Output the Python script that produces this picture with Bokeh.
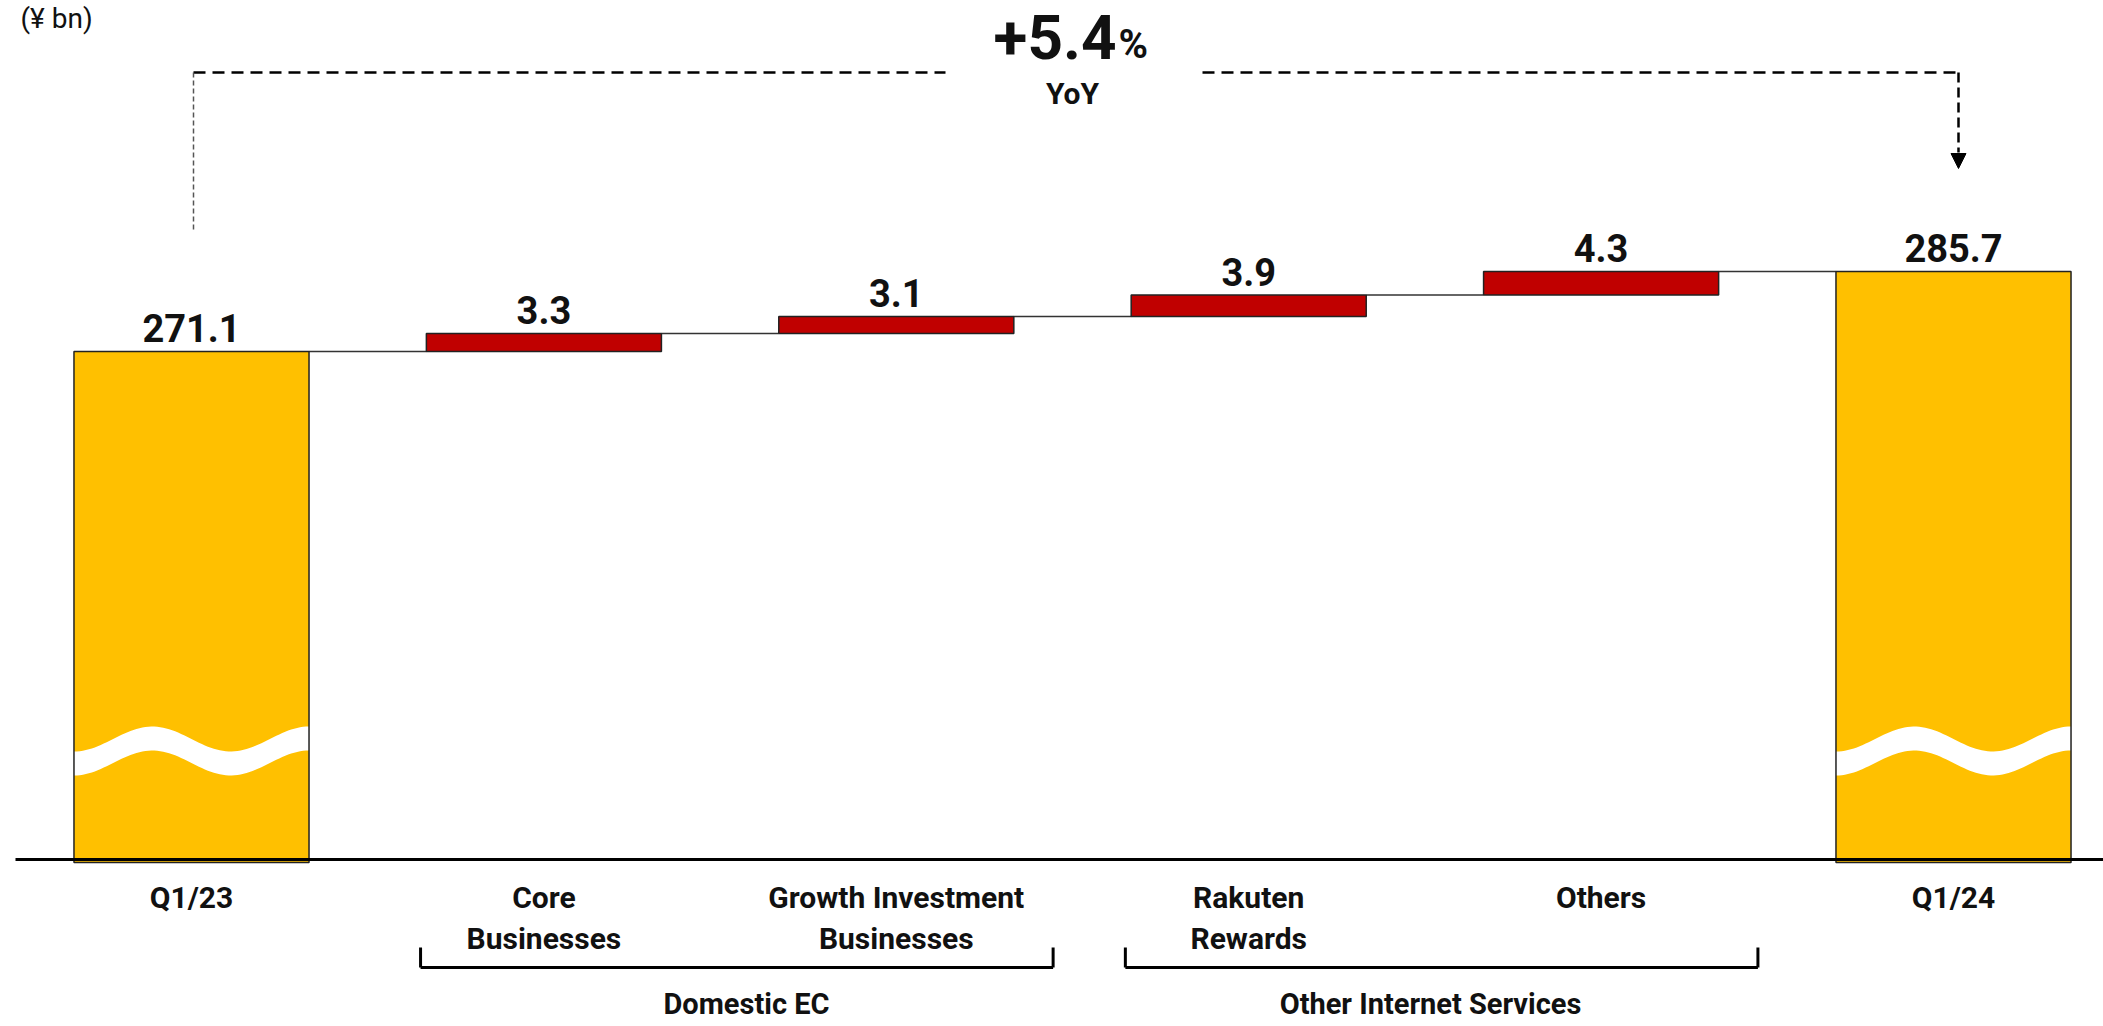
import numpy as np
from bokeh.plotting import figure
from bokeh.models import Range1d
from bokeh.core.properties import value
from bokeh.embed import file_html
from bokeh.resources import INLINE

# ---------------- data ----------------
categories = ["Q1/23", "Core\nBusinesses", "Growth Investment\nBusinesses",
              "Rakuten\nRewards", "Others", "Q1/24"]
start_total = 271.1
deltas = [3.3, 3.1, 3.9, 4.3]
end_total = 285.7
value_labels = ["271.1", "3.3", "3.1", "3.9", "4.3", "285.7"]
groups = ["Domestic EC", "Other Internet Services"]
group_members = [(1, 2), (3, 4)]
yoy_number = "+5.4"
yoy_unit = "%"
yoy_caption = "YoY"
unit_label = "(¥ bn)"

# ---------------- layout ----------------
W, H = 2103, 1026
X0_PX = 191.0        # pixel centre of first category
STEP_PX = 352.4      # pixel distance between categories
PX_PER_UNIT = 5.48
Y_TOP = 335.15       # value at top of canvas
AXIS_PX = 859
BAR_W = 0.667
FONT = "Roboto"
YELLOW = "#FFC000"
RED = "#C00000"
INK = "#111111"
BASE_FIX = 0.35      # renderer places baseline ~0.35em lower than requested
GROUP_LABEL_PX = [746, 1430]


def dx(px):
    return (px - X0_PX) / STEP_PX


def dy(py):
    return Y_TOP - py / PX_PER_UNIT


def tb(py, size):
    """data y for a text baseline at pixel row py with font size `size`."""
    return dy(py - BASE_FIX * size)


axis_val = dy(AXIS_PX)
n = len(categories)
xs = np.arange(n, dtype=float)

running = start_total + np.cumsum([0.0] + deltas)          # totals after each step
tops = [start_total] + list(running[1:]) + [end_total]
bottoms = [dy(AXIS_PX + 3)] + list(running[:-1]) + [dy(AXIS_PX + 3)]
is_total = [True] + [False] * len(deltas) + [True]

p = figure(width=W, height=H, output_backend="svg", toolbar_location=None,
           x_range=Range1d(dx(0), dx(W)), y_range=Range1d(dy(H), dy(0)),
           x_axis_location=None, y_axis_location=None, min_border=0,
           outline_line_color=None, background_fill_color="white")
p.xgrid.grid_line_color = None
p.ygrid.grid_line_color = None

# connectors between bars
cx0 = [xs[i] + BAR_W / 2 for i in range(n - 1)]
cx1 = [xs[i + 1] - BAR_W / 2 for i in range(n - 1)]
clev = [tops[i] for i in range(n - 1)]
p.segment(x0=cx0, y0=clev, x1=cx1, y1=clev, line_color="#333333", line_width=1.5)

# bars
tot_idx = [i for i in range(n) if is_total[i]]
dlt_idx = [i for i in range(n) if not is_total[i]]
p.quad(left=[xs[i] - BAR_W / 2 for i in tot_idx], right=[xs[i] + BAR_W / 2 for i in tot_idx],
       bottom=[bottoms[i] for i in tot_idx], top=[tops[i] for i in tot_idx],
       fill_color=YELLOW, line_color=None)
# axis-break waves on total bars
wxs, wys = [], []
u = np.linspace(0, 1, 80)
for i in tot_idx:
    xl = xs[i] - BAR_W / 2
    edge = 738.5 - 12.5 * np.cos(3 * np.pi * (u - 1 / 3))
    xx = list(xl + u * BAR_W) + list((xl + u * BAR_W)[::-1])
    yy = list(dy(edge)) + list(dy(edge + 24)[::-1])
    wxs.append(xx)
    wys.append(yy)
p.patches(xs=wxs, ys=wys, fill_color="white", line_color=None)
p.quad(left=[xs[i] - BAR_W / 2 for i in tot_idx], right=[xs[i] + BAR_W / 2 for i in tot_idx],
       bottom=[bottoms[i] for i in tot_idx], top=[tops[i] for i in tot_idx],
       fill_color=None, line_color="#222222", line_width=1.5)
p.quad(left=[xs[i] - BAR_W / 2 for i in dlt_idx], right=[xs[i] + BAR_W / 2 for i in dlt_idx],
       bottom=[bottoms[i] for i in dlt_idx], top=[tops[i] for i in dlt_idx],
       fill_color=RED, line_color="#222222", line_width=1.5)

# baseline
p.segment(x0=[dx(15)], y0=[axis_val], x1=[dx(W)], y1=[axis_val], line_color="black", line_width=3)

# value labels
VAL_FS = 38
p.text(x=xs, y=[t + (10 + BASE_FIX * VAL_FS) / PX_PER_UNIT for t in tops], text=value_labels,
       text_align="center", text_baseline="alphabetic", text_font=value(FONT),
       text_font_style="bold", text_font_size=f"{VAL_FS}px", text_color=INK)

# category labels (two lines)
CAT_FS = 30
line1 = [c.split("\n")[0] for c in categories]
line2 = [c.split("\n")[1] if "\n" in c else "" for c in categories]
p.text(x=xs, y=[tb(907, CAT_FS)] * n, text=line1, text_align="center", text_baseline="alphabetic",
       text_font=value(FONT), text_font_style="bold", text_font_size=f"{CAT_FS}px", text_color=INK)
p.text(x=xs, y=[tb(948, CAT_FS)] * n, text=line2, text_align="center", text_baseline="alphabetic",
       text_font=value(FONT), text_font_style="bold", text_font_size=f"{CAT_FS}px", text_color=INK)

# group brackets
bl = [xs[a] - 0.35 for a, b in group_members]
br = [xs[b] + 0.445 for a, b in group_members]
yb0, yb1 = dy(947), dy(967)
p.segment(x0=bl + br + bl, y0=[yb0] * 2 + [yb0] * 2 + [yb1] * 2,
          x1=bl + br + br, y1=[yb1] * 2 + [yb1] * 2 + [yb1] * 2,
          line_color="black", line_width=3)
GRP_FS = 29
p.text(x=[dx(v) for v in GROUP_LABEL_PX], y=[tb(1014, GRP_FS)] * len(groups), text=groups,
       text_align="center", text_baseline="alphabetic", text_font=value(FONT),
       text_font_style="bold", text_font_size=f"{GRP_FS}px", text_color=INK)

# YoY dashed bracket
p.segment(x0=[dx(193), dx(1202)], y0=[dy(72)] * 2, x1=[dx(945), dx(1958)], y1=[dy(72)] * 2,
          line_color="black", line_width=2.5, line_dash="12 7")
p.segment(x0=[dx(193)], y0=[dy(72)], x1=[dx(193)], y1=[dy(232)],
          line_color="#555555", line_width=1.5, line_dash="5 3")
p.segment(x0=[dx(1958)], y0=[dy(72)], x1=[dx(1958)], y1=[dy(152)],
          line_color="black", line_width=2.5, line_dash="10 5")
p.patch(x=[dx(1950.5), dx(1965.5), dx(1958)], y=[dy(153), dy(153), dy(168)],
        fill_color="black", line_color="black")

p.text(x=[dx(1116)], y=[tb(58, 62)], text=[yoy_number], text_align="right", text_baseline="alphabetic",
       text_font=value(FONT), text_font_style="bold", text_font_size="62px", text_color=INK)
p.text(x=[dx(1118)], y=[tb(58, 40)], text=[yoy_unit], text_align="left", text_baseline="alphabetic",
       text_font=value(FONT), text_font_style="bold", text_font_size="40px", text_color=INK)
p.text(x=[dx(1072)], y=[tb(103, 30)], text=[yoy_caption], text_align="center", text_baseline="alphabetic",
       text_font=value(FONT), text_font_style="bold", text_font_size="30px", text_color=INK)

# unit label (top-left corner, kept fully inside the canvas)
p.text(x=[dx(20)], y=[tb(28, 28)], text=[unit_label], text_align="left", text_baseline="alphabetic",
       text_font=value(FONT), text_font_size="28px", text_color=INK)

open("out.html", "w").write(file_html(p, INLINE))
